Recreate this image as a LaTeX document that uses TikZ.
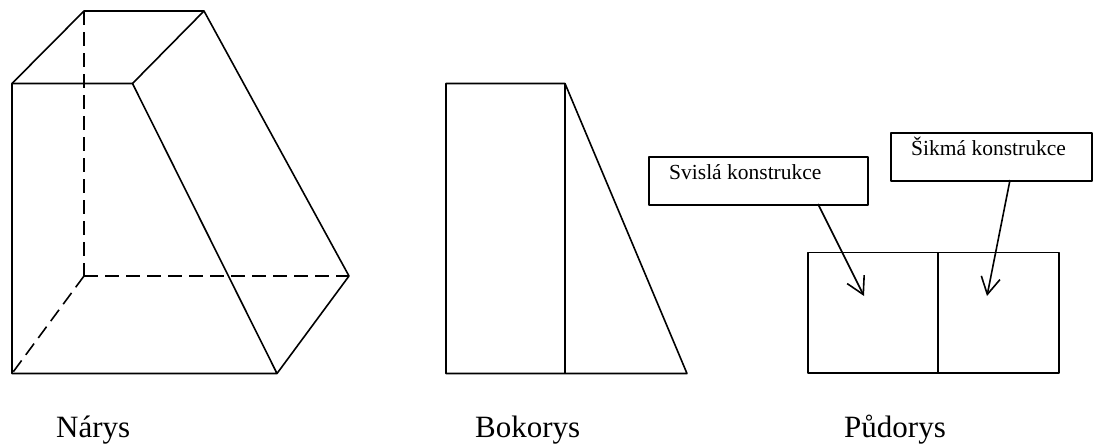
\documentclass[tikz,border=0pt]{standalone}
\usepackage{fontspec}
\setmainfont{Liberation Serif}
\usetikzlibrary{arrows.meta}
\tikzset{
  ln/.style={line width=1.6pt,black,line join=round},
  dsh/.style={line width=1.6pt,black,dash pattern=on 14pt off 7pt},
  arr/.style={line width=1.6pt,black,-{Straight Barb[length=17pt,width=19pt,line width=1.6pt]}},
  lab/.style={font=\fontsize{31}{36}\selectfont,anchor=base west,inner sep=0},
  boxtxt/.style={font=\fontsize{21.5}{25}\selectfont,anchor=base west,inner sep=0}
}
\begin{document}
\begin{tikzpicture}[x=1pt,y=-1pt]
\useasboundingbox (0,0) rectangle (1107,445);
% Narys
\coordinate (A) at (12,83.5); \coordinate (B) at (132.5,83.5);
\coordinate (C) at (12,373.5); \coordinate (D) at (277,373.5);
\coordinate (E) at (84,11); \coordinate (F) at (204,11);
\coordinate (G) at (349,276); \coordinate (H) at (84,276);
\draw[ln] (A)--(B)--(D)--(C)--cycle;
\draw[ln] (A)--(E)--(F)--(G)--(D);
\draw[ln] (B)--(F);
\draw[dsh] (E)--(H);
\draw[dsh] (H)--(G);
\draw[dsh] (H)--(C);
% Bokorys
\coordinate (P) at (446,83.5); \coordinate (Q) at (565,83.5);
\coordinate (R) at (446,373.5); \coordinate (S) at (565,373.5); \coordinate (T) at (687,373.5);
\draw[ln] (P)--(Q)--(T)--(R)--cycle;
\draw[ln] (Q)--(S);
% Pudorys
\coordinate (K) at (808,252.5); \coordinate (L) at (1059,252.5);
\coordinate (M) at (808,373); \coordinate (N) at (1059,373);
\coordinate (U) at (938,252.5); \coordinate (V) at (938,373);
\draw[ln] (K)--(L)--(N)--(M)--cycle;
\draw[ln] (U)--(V);
% boxes
\node[ln,draw,minimum width=219pt,minimum height=48pt,inner sep=0,anchor=north west] (b1) at (648,156) {};
\node[ln,draw,minimum width=201pt,minimum height=48pt,inner sep=0,anchor=north west] (b2) at (890,132) {};
\coordinate (a1) at (864,296);
\coordinate (a2) at (987,296);
\draw[arr] (818,204)--(a1);
\draw[arr] (1010,180)--(a2);
\node[boxtxt] (t1) at (669,179) {Svislá konstrukce};
\node[boxtxt] (t2) at (911,155) {Šikmá konstrukce};
\node[lab] (n1) at (56,437) {Nárys};
\node[lab] (n2) at (475,437) {Bokorys};
\node[lab] (n3) at (844,437) {Půdorys};
\end{tikzpicture}
\end{document}
